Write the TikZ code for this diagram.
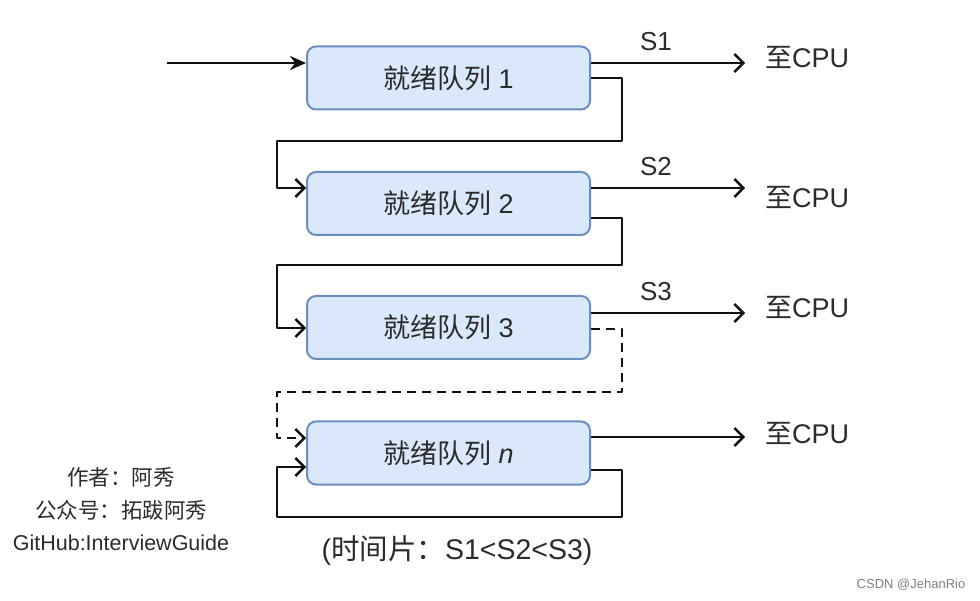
\documentclass[tikz,border=0pt]{standalone}
\usepackage{fontspec}
\setmainfont{Liberation Sans}
\newfontfamily\cjk{Noto Sans CJK SC}
\usetikzlibrary{arrows.meta}
\definecolor{qfill}{HTML}{DAE8FC}
\definecolor{qline}{HTML}{6C8EBF}
\definecolor{txt}{HTML}{2B2B2B}
\definecolor{ln}{HTML}{111111}
\tikzset{
  qbox/.style={draw=qline, fill=qfill, line width=2pt, rounded corners=9pt,
    minimum width=283pt, minimum height=63pt, inner sep=0pt, text=txt,
    font=\fontsize{27}{32}\selectfont},
  conn/.style={draw=ln, line width=2.4pt, line join=round},
  openarr/.style={conn, -{Straight Barb[length=9pt,width=18pt,line width=2.4pt]}},
  fillarr/.style={conn, -{Stealth[length=16pt,width=14pt]}},
  lbl/.style={text=txt, font=\fontsize{26}{30}\selectfont, inner sep=0pt},
  cpu/.style={text=txt, font=\fontsize{27}{32}\selectfont, inner sep=0pt, anchor=west},
  note/.style={text=txt, font=\fontsize{21.5}{25}\selectfont, inner sep=0pt},
}
\begin{document}
\begin{tikzpicture}[x=1pt,y=-1pt]
\useasboundingbox (0,0) rectangle (980,601);
\fill[white] (0,0) rectangle (980,601);

% queues
\node[qbox] (q1) at (448.5,78) {{\cjk 就绪队列} 1};
\node[qbox] (q2) at (448.5,203.5) {{\cjk 就绪队列} 2};
\node[qbox] (q3) at (448.5,327.5) {{\cjk 就绪队列} 3};
\node[qbox] (qn) at (448.5,453) {{\cjk 就绪队列} \textit{n}};

% CPU targets
\coordinate (c1) at (745,63);
\coordinate (c2) at (745,188);
\coordinate (c3) at (745,313);
\coordinate (c4) at (745,437);
\node[cpu] (t1) at (765,57) {{\cjk 至}CPU};
\node[cpu] (t2) at (765,197) {{\cjk 至}CPU};
\node[cpu] (t3) at (765,307) {{\cjk 至}CPU};
\node[cpu] (t4) at (765,433) {{\cjk 至}CPU};

% input
\coordinate (in0) at (167,63);
\draw[fillarr] (in0) -- (in0 -| q1.west);

% outputs
\draw[openarr] (c1 -| q1.east) -- (c1);
\draw[openarr] (c2 -| q2.east) -- (c2);
\draw[openarr] (c3 -| q3.east) -- (c3);
\draw[openarr] (c4 -| qn.east) -- (c4);
\node[lbl] (s1) at (656,42) {S1};
\node[lbl] (s2) at (656,167) {S2};
\node[lbl] (s3) at (656,292) {S3};

% feedback loops
\draw[openarr] (q1.east |- 0,78) -- (622,78) -- (622,141) -- (277,141) -- (277,188) -- (q2.west |- 0,188);
\draw[openarr] (q2.east |- 0,218) -- (622,218) -- (622,265) -- (277,265) -- (277,328) -- (q3.west |- 0,328);
\draw[openarr, dash pattern=on 9pt off 6pt] (q3.east |- 0,329) -- (622,329) -- (622,392) -- (277,392) -- (277,438) -- (qn.west |- 0,438);
\draw[openarr] (qn.east |- 0,470) -- (622,470) -- (622,517) -- (277,517) -- (277,467) -- (qn.west |- 0,467);

% notes
\node[note] (a1) at (121,477) {{\cjk 作者：阿秀}};
\node[note] (a2) at (121,510) {{\cjk 公众号：拓跋阿秀}};
\node[note] (a3) at (121,543) {GitHub:InterviewGuide};
\node[lbl, font=\fontsize{28.5}{33}\selectfont] (ts) at (457,550) {({\cjk 时间片：}S1<S2<S3)};
\node[text=gray, font=\fontsize{13}{15}\selectfont, inner sep=0pt] (wm) at (911,585) {CSDN @JehanRio};
\end{tikzpicture}
\end{document}
